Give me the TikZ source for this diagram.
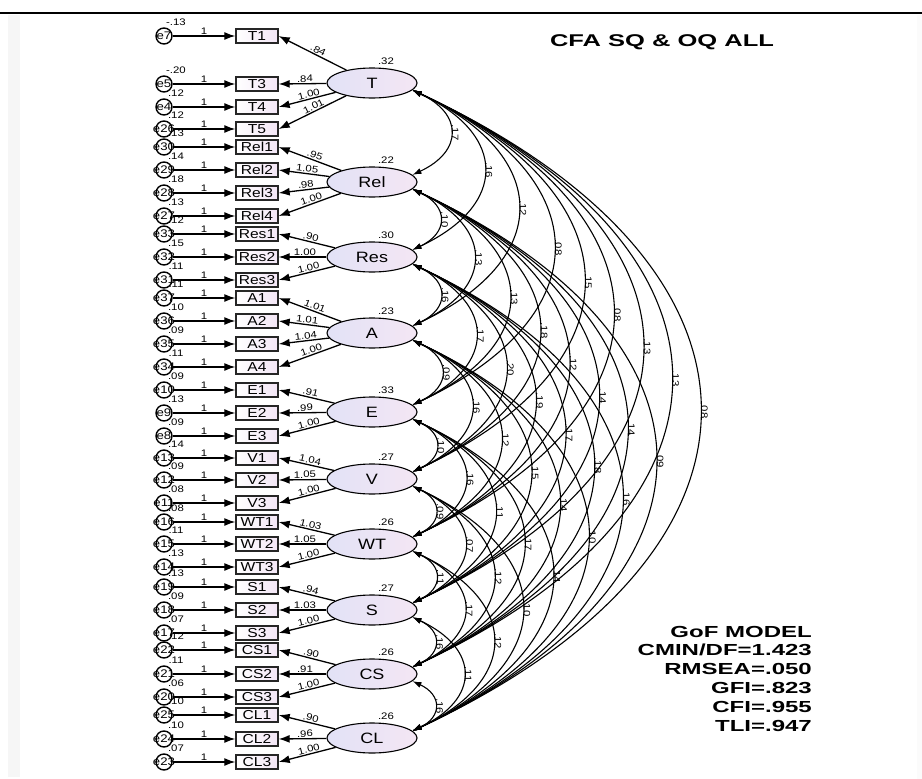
\documentclass[tikz,border=0pt]{standalone}
\usepackage{fontspec}
\setmainfont{Liberation Sans}[FakeStretch=1.2]
\newfontfamily\widefont{Liberation Sans}[FakeStretch=1.5]
\usetikzlibrary{arrows.meta, shapes.geometric}

\definecolor{latblue}{HTML}{E2E2F6}
\definecolor{latpink}{HTML}{F4E6F4}
\definecolor{boxpink}{HTML}{F3E6F6}

\begin{document}
\begin{tikzpicture}[
  x=1pt, y=-1pt,
  ind/.style={draw=black!85, line width=1.4pt, left color=white, right color=boxpink, minimum width=42pt, minimum height=14pt, inner sep=0pt, font=\fontsize{13}{13}\selectfont},
  latent/.style={ellipse, draw, line width=1.1pt, left color=latblue, right color=latpink, minimum width=90pt, minimum height=30pt, inner sep=0pt, font=\fontsize{15}{15}\selectfont},
  err/.style={circle, draw, line width=1.4pt, fill=white, minimum size=16pt, inner sep=0pt, font=\fontsize{11}{11}\selectfont},
  num/.style={font=\fontsize{9.5}{9.5}\selectfont, inner sep=1pt},
  arrow/.style={-{Latex[length=11pt,width=8pt]}, line width=1.3pt},
  cov/.style={{Latex[length=9pt,width=6pt]}-{Latex[length=9pt,width=6pt]}, line width=1.1pt},
  covlab/.style={num, midway, rotate=-90, anchor=south},
  gof/.style={font=\widefont\bfseries\fontsize{16}{16}\selectfont, inner sep=0pt, anchor=base east}
]
  \useasboundingbox (0,0) rectangle (922,779);
  % frame
  \fill[gray!7] (8,15) rectangle (20,777);
  \fill[gray!3] (917,15) rectangle (922,779);
  \draw[line width=1.5pt] (0,13) -- (922,13);

  % title
  \node[font=\widefont\bfseries\fontsize{17}{17}\selectfont] (title) at (662,42) {CFA SQ \& OQ ALL};

  % indicators with their errors
  \foreach \y/\ind/\err/\var in {36/T1/7/-.13, 84/T3/5/-.20, 107/T4/4/.12, 129/T5/26/.12,
      147/Rel1/30/.13, 170/Rel2/29/.14, 193/Rel3/28/.18, 216/Rel4/27/.13,
      234/Res1/33/.12, 257/Res2/32/.15, 280/Res3/31/.11,
      298/A1/37/.11, 321/A2/36/.10, 344/A3/35/.09, 367/A4/34/.11,
      390/E1/10/.09, 413/E2/9/.13, 436/E3/8/.09,
      458/V1/13/.14, 480/V2/12/.09, 503/V3/11/.08,
      522/WT1/16/.08, 544/WT2/15/.11, 567/WT3/14/.13,
      587/S1/19/.13, 610/S2/18/.09, 633/S3/17/.07,
      650/CS1/22/.12, 674/CS2/21/.11, 697/CS3/20/.06,
      715/CL1/25/.10, 739/CL2/24/.10, 762/CL3/23/.07}{
    \node[ind] (\ind) at (257,\y) {\ind};
    \node[err] (e\err) at (164,\y) {\makebox[0pt]{e\err}};
    \node[num] (ev\err) at (176,{\y-14}) {\var};
    \draw[arrow] (e\err) -- node[num, above] {1} (\ind);
  }

  % latent factors
  \foreach \y/\lat/\var in {83/T/.32, 182/Rel/.22, 257/Res/.30, 333/A/.23, 412/E/.33,
      479/V/.27, 544/WT/.26, 610/S/.27, 674/CS/.26, 738/CL/.26}{
    \node[latent] (\lat) at (372,\y) {\lat};
    \node[num] (lv\lat) at (386,{\y-22}) {\var};
  }

  % loadings
  \foreach \lat/\ind/\w in {T/T1/.84, T/T3/.84, T/T4/1.00, T/T5/1.01,
      Rel/Rel1/.95, Rel/Rel2/1.05, Rel/Rel3/.98, Rel/Rel4/1.00,
      Res/Res1/.90, Res/Res2/1.00, Res/Res3/1.00,
      A/A1/1.01, A/A2/1.01, A/A3/1.04, A/A4/1.00,
      E/E1/.91, E/E2/.99, E/E3/1.00, V/V1/1.04, V/V2/1.05, V/V3/1.00,
      WT/WT1/1.03, WT/WT2/1.05, WT/WT3/1.00, S/S1/.94, S/S2/1.03, S/S3/1.00,
      CS/CS1/.90, CS/CS2/.91, CS/CS3/1.00, CL/CL1/.90, CL/CL2/.96, CL/CL3/1.00}
    \draw[arrow] (\lat) -- node[num, sloped, above, pos=0.45] {\w} (\ind.east);

  % covariances
  \foreach \a/\b/\v in {T/Rel/.17, T/Res/.16, T/A/.12, T/E/.08, T/V/.15, T/WT/.08, T/S/.13, T/CS/.13, T/CL/.08,
      Rel/Res/.10, Rel/A/.13, Rel/E/.13, Rel/V/.18, Rel/WT/.12, Rel/S/.14, Rel/CS/.14, Rel/CL/.09,
      Res/A/.16, Res/E/.17, Res/V/.20, Res/WT/.19, Res/S/.17, Res/CS/.18, Res/CL/.16,
      A/E/.09, A/V/.16, A/WT/.12, A/S/.15, A/CS/.14, A/CL/.10,
      E/V/.10, E/WT/.16, E/S/.11, E/CS/.17, E/CL/.14,
      V/WT/.09, V/S/.07, V/CS/.12, V/CL/.10,
      WT/S/.11, WT/CS/.17, WT/CL/.12,
      S/CS/.16, S/CL/.11, CS/CL/.16}
    \draw[cov] (\a.-10) to[out=-25, in=25, looseness=1.69] node[covlab] {\v} (\b.10);

  % fit indices
  \foreach \t [count=\i] in {GoF MODEL, CMIN/DF=1.423, RMSEA=.050, GFI=.823, CFI=.955, TLI=.947}
    \node[gof] (gof\i) at (812,{637+18.8*(\i-1)}) {\t};
\end{tikzpicture}
\end{document}
